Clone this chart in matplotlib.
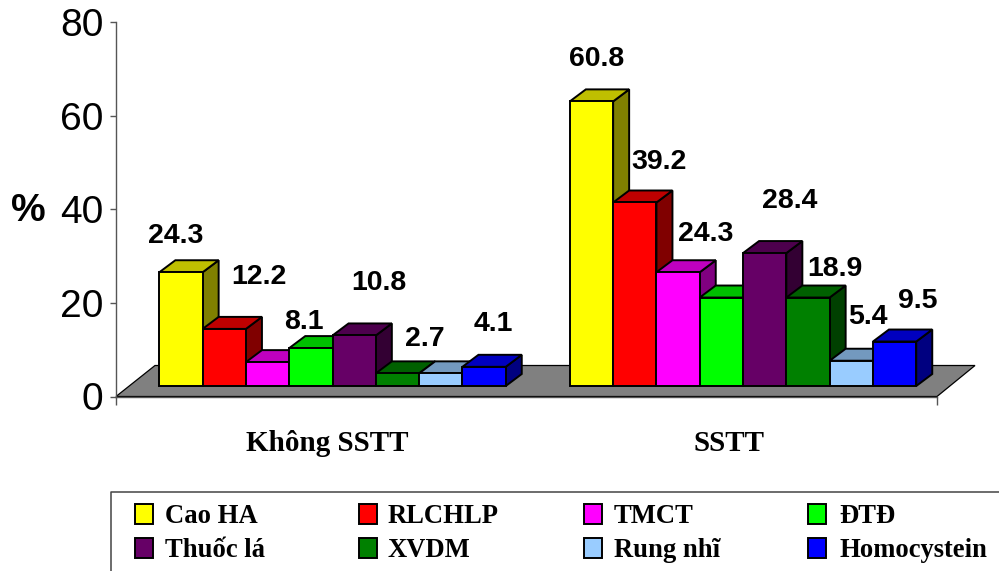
import matplotlib
matplotlib.use("Agg")
import matplotlib.pyplot as plt
from matplotlib.patches import Rectangle
from matplotlib.transforms import Affine2D

categories = ["Không SSTT", "SSTT"]
series_names = ["Cao HA", "RLCHLP", "TMCT", "ĐTĐ", "Thuốc lá", "XVDM", "Rung nhĩ", "Homocystein"]
khong_sstt = [24.3, 12.2, 5.1, 8.1, 10.8, 2.7, 2.7, 4.1]
sstt = [60.8, 39.2, 24.3, 18.9, 28.4, 18.9, 5.4, 9.5]
yticks = [0, 20, 40, 60, 80]

colors = ["#FFFF00", "#FF0000", "#FF00FF", "#00FF00", "#660066", "#008000", "#99CCFF", "#0000FF"]

# label offsets from bar-top centre, in pixels (style only)
offs_0 = [(-5, 36), (35, 52), None, (-7, 26), (25, 52), (27, 34), None, (9, 43)]
offs_1 = [(5, 42), (24, 40), (28, 38), None, (25, 52), (27, 29), (17, 44), (23, 41)]

W, H = 999, 571
fig = plt.figure(figsize=(W / 100, H / 100), dpi=100, facecolor="white")
L, R, T, B = 116, 937, 22, 396.5
ax = fig.add_axes([L / W, 1 - B / H, (R - L) / W, (B - T) / H])
ax.set_facecolor("none")
XMIN, XMAX, YMAX = -0.5, 1.5, 80
px_x = (XMAX - XMIN) / (R - L)
px_y = YMAX / (B - T)


def shade(hexcol, k):
    r, g, b = matplotlib.colors.to_rgb(hexcol)
    return (r * k, g * k, b * k)


# floor
ax.fill([XMIN, XMAX, XMAX + 38 * px_x, XMIN + 39 * px_x],
        [0, 0, 31 * px_y, 31 * px_y],
        facecolor="#808080", edgecolor="black", lw=0.9, clip_on=False, zorder=1)

bw = 43.3 * px_x
shift_x = 11.3 * px_x
base = 10.5 * px_y
dep_x, dep_y = 16 * px_x, 12 * px_y
n = len(series_names)
z = 2
for gi, vals in enumerate([khong_sstt, sstt]):
    for i, v in enumerate(vals):
        x0 = gi + shift_x + (i - n / 2) * bw
        x1 = x0 + bw
        y0, y1 = base, base + v
        c = colors[i]
        ax.fill([x1, x1 + dep_x, x1 + dep_x, x1], [y0, y0 + dep_y, y1 + dep_y, y1],
                facecolor=shade(c, 0.5), edgecolor="black", lw=1.4, joinstyle="miter", clip_on=False, zorder=z)
        ax.fill([x0, x1, x1 + dep_x, x0 + dep_x], [y1, y1, y1 + dep_y, y1 + dep_y],
                facecolor=shade(c, 0.75), edgecolor="black", lw=1.4, joinstyle="miter", clip_on=False, zorder=z)
        ax.bar(x0, v, width=bw, bottom=y0, align="edge", color=c, edgecolor="black",
               linewidth=1.4, clip_on=False, zorder=z)
        z += 1
for gi, (vals, offs) in enumerate([(khong_sstt, offs_0), (sstt, offs_1)]):
    for i, v in enumerate(vals):
        if offs[i] is None:
            continue
        xc = gi + shift_x + (i + 0.5 - n / 2) * bw
        ax.annotate(f"{v:.1f}", xy=(xc, base + v), xytext=offs[i], textcoords="offset pixels",
                    ha="center", va="center", fontsize=20.5, fontweight="bold",
                    family="Liberation Sans", color="black", zorder=100, annotation_clip=False)

ax.set_xlim(XMIN, XMAX)
ax.set_ylim(0, YMAX)
for s in ("top", "right"):
    ax.spines[s].set_visible(False)
for s in ("left", "bottom"):
    ax.spines[s].set_color("#555555")
    ax.spines[s].set_linewidth(1.0)
    ax.spines[s].set_zorder(50)

ax.set_yticks(yticks)
ax.tick_params(axis="y", length=4, width=1, color="#555555", pad=5, labelsize=28)
for t in ax.get_yticklabels():
    t.set_family("Liberation Sans")

ax.set_xticks([0, 1])
ax.set_xticklabels(categories, fontsize=21, fontweight="bold", family="Liberation Serif")
ax.set_xticks([XMIN, XMAX], minor=True)
ax.tick_params(axis="x", which="major", length=0, pad=24)
ax.tick_params(axis="x", which="minor", length=6, width=1, color="#555555")
for t, d in zip(ax.get_xticklabels(), (6, -3)):
    t.set_transform(t.get_transform() + Affine2D().translate(d, 0))

ax.set_ylabel("%", rotation=0, fontsize=28, fontweight="bold", family="Liberation Sans",
              ha="center", va="center")
ax.yaxis.set_label_coords((28 - L) / (R - L), (B - 211) / (B - T))

# legend panel
lg = fig.add_axes([0, 0, 1, 1], zorder=200)
lg.set_xlim(0, W)
lg.set_ylim(H, 0)
lg.axis("off")
lg.plot([999, 110.5, 110.5], [491.5, 491.5, 571], color="#444444", lw=1.1, clip_on=False)
sw_x = [135, 359, 584, 808]
tx_x = [165, 388, 614, 839]
rows_y = [514, 548]
for i, name in enumerate(series_names):
    col, row = i % 4, i // 4
    lg.add_patch(Rectangle((sw_x[col], rows_y[row] - 10), 18, 20, facecolor=colors[i],
                           edgecolor="black", lw=1.4))
    lg.text(tx_x[col], rows_y[row] + 2.5, name, ha="left", va="center", fontsize=19.2,
            fontweight="bold", family="Liberation Serif", color="black")

fig.savefig("out.png", dpi=100, facecolor="white")
